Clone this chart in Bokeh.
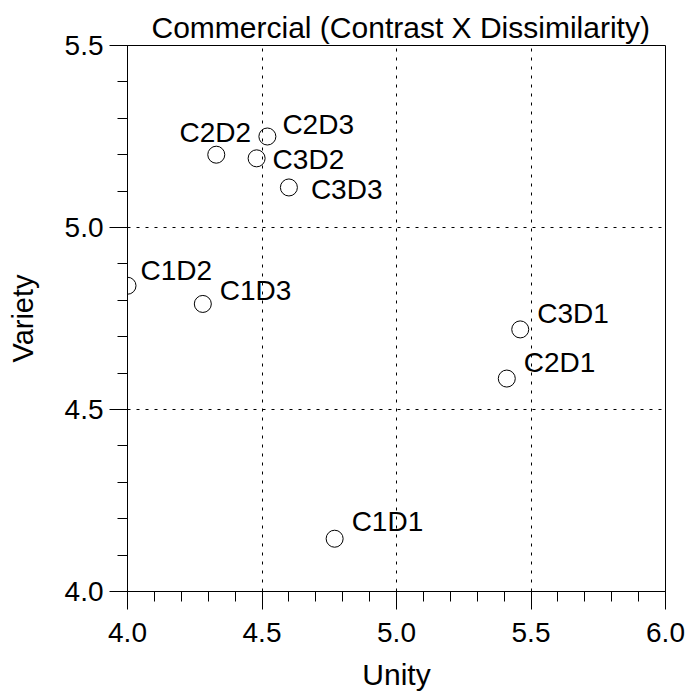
from bokeh.plotting import figure
from bokeh.models import ColumnDataSource, Range1d, SingleIntervalTicker, Title, CustomJSTickFormatter
from bokeh.core.properties import value
from bokeh.embed import file_html
from bokeh.resources import INLINE

# Data
names = ["C1D1", "C1D2", "C1D3", "C2D1", "C2D2", "C2D3", "C3D1", "C3D2", "C3D3"]
unity = [4.77, 4.00, 4.28, 5.41, 4.33, 4.52, 5.46, 4.48, 4.60]
variety = [4.145, 4.84, 4.79, 4.585, 5.20, 5.25, 4.72, 5.19, 5.11]

# Label placement (screen px)
label_dx = [17, 13, 17, 17, -1, 15, 17, 16, 22]
label_dy = [-17, -15, -13, -16, -22, -12, -16, 1, 2]
label_align = ["left", "left", "left", "left", "center", "left", "left", "left", "left"]

FONT = "Liberation Sans"

src = ColumnDataSource(dict(x=unity, y=variety, name=names, dx=label_dx, dy=label_dy, al=label_align))

p = figure(width=687, height=693, output_backend="svg", toolbar_location=None,
           x_range=Range1d(4.0, 6.0), y_range=Range1d(4.0, 5.5),
           min_border_left=127, min_border_right=22, min_border_top=45, min_border_bottom=102)
p.title = Title(text="Commercial (Contrast X Dissimilarity)", align="left",
                text_font=FONT, text_font_size="30px", text_font_style="normal",
                text_color="black", standoff=3, offset=24)

p.outline_line_color = "black"
p.outline_line_width = 1
p.background_fill_color = "white"
p.border_fill_color = "white"

for ax, lab in ((p.xaxis, "Unity"), (p.yaxis, "Variety")):
    ax.axis_label = lab
    ax.axis_label_text_font = FONT
    ax.axis_label_text_font_style = "normal"
    ax.axis_label_text_color = "black"
    ax.major_label_text_font = FONT
    ax.major_label_text_font_size = "28px"
    ax.major_label_text_color = "black"
    ax.axis_line_color = "black"
    ax.major_tick_line_color = "black"
    ax.minor_tick_line_color = "black"
    ax.major_tick_in = 0
    ax.major_tick_out = 18
    ax.minor_tick_in = 0
    ax.minor_tick_out = 10
    ax.ticker = SingleIntervalTicker(interval=0.5, num_minor_ticks=5)
    ax.formatter = CustomJSTickFormatter(code="return tick.toFixed(1);")

p.xaxis.axis_label_text_font_size = "30px"
p.yaxis.axis_label_text_font_size = "29px"
p.xaxis.major_label_standoff = 13
p.yaxis.major_label_standoff = 6
p.xaxis.axis_label_standoff = 13
p.yaxis.axis_label_standoff = 23

for g in (p.xgrid, p.ygrid):
    g.ticker = SingleIntervalTicker(interval=0.5)
    g.grid_line_color = "black"
    g.grid_line_dash = "3 6"
    g.grid_line_width = 1

p.scatter("x", "y", source=src, size=17, marker="circle", fill_color=None,
          line_color="black", line_width=1)
p.text("x", "y", text="name", source=src, x_offset="dx", y_offset="dy",
       text_align="al", text_baseline="middle", text_font=value(FONT),
       text_font_size="28px", text_color="black")

open("out.html", "w").write(file_html(p, INLINE))
